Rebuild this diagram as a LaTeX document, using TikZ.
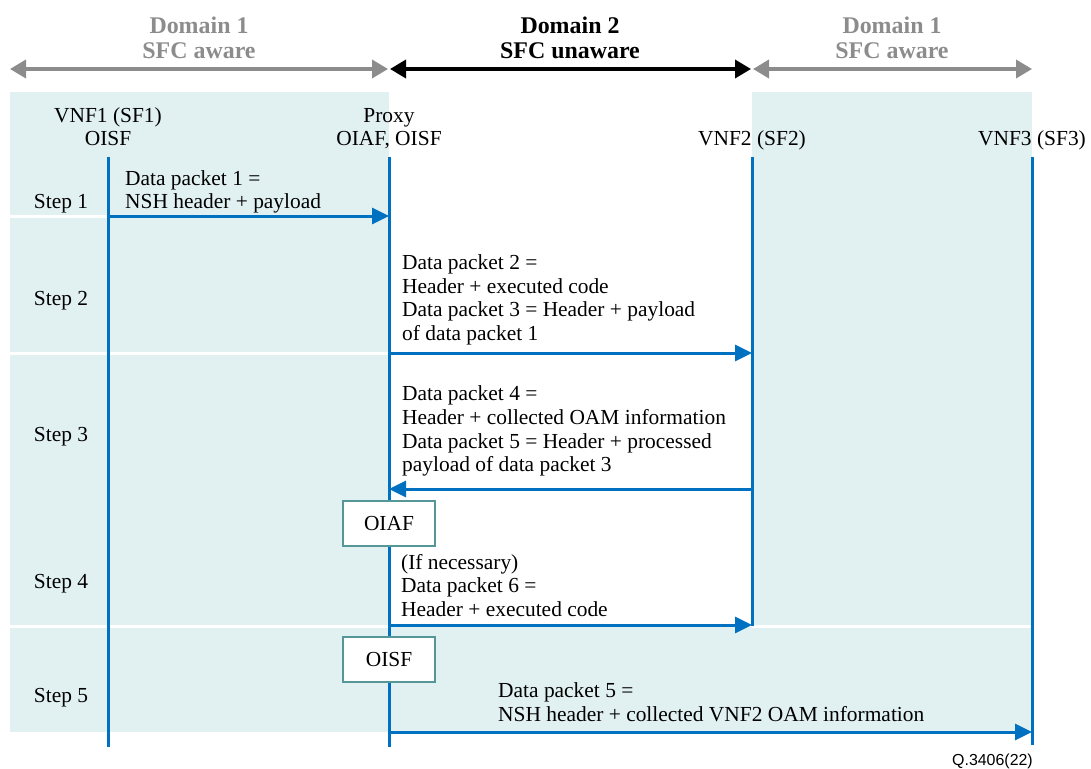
\documentclass[tikz,border=0pt]{standalone}
\usepackage{fontspec}
\setmainfont{Liberation Serif}
\newfontfamily\figsans{Liberation Sans}
\usetikzlibrary{arrows.meta}

\definecolor{panel}{RGB}{225,240,241}
\definecolor{lifeblue}{RGB}{0,112,192}
\definecolor{domgray}{RGB}{140,140,140}
\definecolor{boxedge}{RGB}{85,150,152}

\begin{document}
\begin{tikzpicture}[x=1bp,y=-1bp,
  body/.style={font=\fontsize{21.5}{23.8}\selectfont, inner sep=0pt},
  para/.style={body, align=left, anchor=north west},
  head/.style={body, align=center, anchor=north},
  steplbl/.style={body, anchor=base},
  domlbl/.style={font=\bfseries\fontsize{24}{25.8}\selectfont, inner sep=0pt,
                 align=center, anchor=north},
  life/.style={draw=lifeblue, line width=3bp},
  msg/.style={draw=lifeblue, line width=3bp,
              -{Triangle[length=17bp,width=16bp]}},
  domarrow/.style={line width=3.5bp,
              {Triangle[length=16bp,width=18bp]}-{Triangle[length=16bp,width=18bp]}},
  funcbox/.style={body, draw=boxedge, line width=1.3bp, fill=white,
              minimum width=92bp, minimum height=45bp, inner sep=0pt},
  sep/.style={draw=white, line width=3bp}
]
\useasboundingbox (0,0) rectangle (1091,769);

% shaded domain panels and the full-width step 5 band
\fill[panel] (10,92) rectangle (389,732);
\fill[panel] (752,92) rectangle (1032,732);
\fill[panel] (389,627) rectangle (752,732);

% white separators between steps
\draw[sep] (10,216) -- (108,216);
\draw[sep] (10,353) -- (389,353);
\draw[sep] (10,626) -- (389,626);
\draw[sep] (752,626) -- (1032,626);

% domain extent arrows
\coordinate (d0) at (10,69);
\coordinate (d1) at (388,69);
\coordinate (d1b) at (390,69);
\coordinate (d2) at (751,69);
\coordinate (d2b) at (753,69);
\coordinate (d3) at (1032,69);
\draw[domarrow, draw=domgray, fill=domgray] (d0) -- (d1);
\draw[domarrow, draw=black, fill=black] (d1b) -- (d2);
\draw[domarrow, draw=domgray, fill=domgray] (d2b) -- (d3);

\node[domlbl, text=domgray] (dom1l) at (199,15) {\strut Domain 1\\SFC aware};
\node[domlbl, text=black]   (dom2)  at (570,15) {\strut Domain 2\\SFC unaware};
\node[domlbl, text=domgray] (dom1r) at (892,15) {\strut Domain 1\\SFC aware};

% participants
\node[head] (vnf1)  at (108,105.3) {\strut VNF1 (SF1)\\OISF};
\node[head] (proxy) at (389,105.3) {\strut Proxy\\OIAF, OISF};
\node[body, anchor=base] (vnf2) at (752,145) {VNF2 (SF2)};
\node[body, anchor=base] (vnf3) at (1032,145) {VNF3 (SF3)};

% lifelines
\coordinate (v1t) at (108,157);  \coordinate (v1b) at (108,747);
\coordinate (pxt) at (389,157);  \coordinate (pxb) at (389,747);
\coordinate (v2t) at (752,157);  \coordinate (v2b) at (752,626);
\coordinate (v3t) at (1032,157); \coordinate (v3b) at (1032,745);
\draw[life] (v1t) -- (v1b);
\draw[life] (pxt) -- (pxb);
\draw[life] (v2t) -- (v2b);
\draw[life] (v3t) -- (v3b);

% message end points on the lifelines
\coordinate (m1a) at (108,216); \coordinate (m1b) at (389,216);
\coordinate (m2a) at (389,353); \coordinate (m2b) at (752,353);
\coordinate (m3a) at (752,489); \coordinate (m3b) at (389,489);
\coordinate (m4a) at (389,625); \coordinate (m4b) at (752,625);
\coordinate (m5a) at (389,732); \coordinate (m5b) at (1032,732);

\draw[msg] (m1a) -- (m1b);
\draw[msg] (m2a) -- (m2b);
\draw[msg] (m3a) -- (m3b);
\draw[msg] (m4a) -- (m4b);
\draw[msg] (m5a) -- (m5b);

% functions applied at the proxy
\node[funcbox] (oiaf) at (389,523.5) {OIAF};
\node[funcbox] (oisf) at (389,659.5) {OISF};

% step labels
\node[steplbl] (s1) at (61,208) {Step 1};
\node[steplbl] (s2) at (61,305) {Step 2};
\node[steplbl] (s3) at (61,441) {Step 3};
\node[steplbl] (s4) at (61,588) {Step 4};
\node[steplbl] (s5) at (61,702) {Step 5};

% message descriptions
\node[para] (t1) at (125,168.3) {\strut Data packet 1 =\\NSH header + payload};
\node[para] (t2) at (402,252.6) {\strut Data packet 2 =\\Header + executed code\\Data packet 3 = Header + payload\\of data packet 1};
\node[para] (t3) at (402,383.8) {\strut Data packet 4 =\\Header + collected OAM information\\Data packet 5 = Header + processed\\payload of data packet 3};
\node[para] (t4) at (401,552.3) {\strut (If necessary)\\Data packet 6 =\\Header + executed code};
\node[para] (t5) at (498,680.8) {\strut Data packet 5 =\\NSH header + collected VNF2 OAM information};

% figure reference
\node[font=\figsans\fontsize{16}{18}\selectfont, inner sep=0pt, anchor=base east]
  (ref) at (1033,765) {Q.3406(22)};
\end{tikzpicture}
\end{document}
